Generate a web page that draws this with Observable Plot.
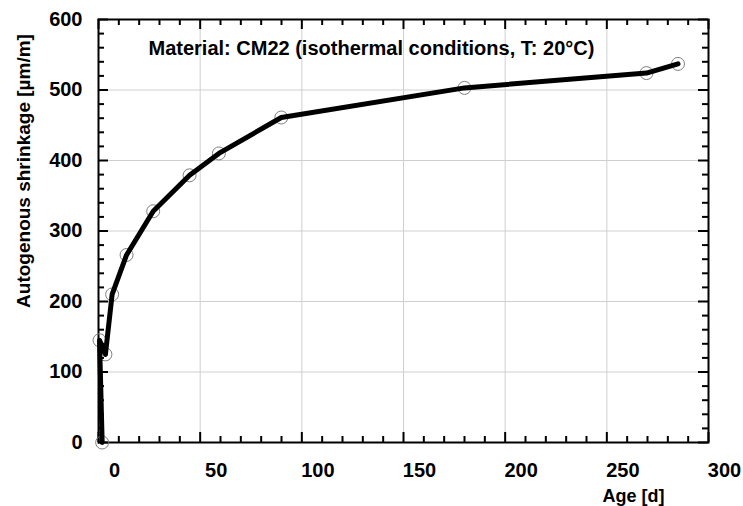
<!DOCTYPE html>
<html><head><meta charset="utf-8">
<script src="https://cdn.jsdelivr.net/npm/d3@7"></script>
<script src="https://cdn.jsdelivr.net/npm/@observablehq/plot@0.6"></script>
<style>
body{margin:0;background:#fff}
#chart svg{font-family:"Liberation Sans",Arial,sans-serif;background:#fff}
</style>
</head><body><div id="chart"></div>
<script>
// Measured points (Age in days, autogenous shrinkage in µm/m)
const ages = [1.8, 0.5, 3.4, 6.7, 13.8, 26.9, 44.8, 59.2, 89.9, 180, 269.5, 285];
const shrinkage = [0, 145, 125, 210, 266, 328, 379, 410, 461, 503, 524, 537];

// Axis ticks
const xMajorTicks = [0, 50, 100, 150, 200, 250, 300];
const xMinorTicks = [10, 20, 30, 40, 60, 70, 80, 90, 110, 120, 130, 140, 160, 170, 180, 190, 210, 220, 230, 240, 260, 270, 280, 290];
const yMajorTicks = [0, 100, 200, 300, 400, 500, 600];
const yMinorTicks = [20, 40, 60, 80, 120, 140, 160, 180, 220, 240, 260, 280, 320, 340, 360, 380, 420, 440, 460, 480, 520, 540, 560, 580];
const xGrid = [50, 100, 150, 200, 250];
const yGrid = [100, 200, 300, 400, 500];

// Texts
const titleText = "Material: CM22 (isothermal conditions, T: 20°C)";
const xLabel = "Age [d]";
const yLabel = "Autogenous shrinkage [µm/m]";

const data = ages.map((a, i) => ({age: a, value: shrinkage[i]}));

const W = 743, H = 506, ML = 98, MR = 35, MT = 19, MB = 64;
const innerW = W - ML - MR, innerH = H - MT - MB;
const minorLen = 6, majorLen = 10;
const tickStyle = {stroke: "black", strokeWidth: 2};
const bold = {fontWeight: "bold", fontSize: 20};

const chart = Plot.plot({
  width: W,
  height: H,
  marginLeft: ML,
  marginRight: MR,
  marginTop: MT,
  marginBottom: MB,
  x: {domain: [0, 300], axis: null},
  y: {domain: [0, 600], axis: null},
  marks: [
    Plot.gridX(xGrid, {stroke: "#cfcfcf", strokeOpacity: 1}),
    Plot.gridY(yGrid, {stroke: "#cfcfcf", strokeOpacity: 1}),
    // inward ticks: bottom, top, left, right
    Plot.tickX(xMinorTicks, {x: d => d, insetTop: innerH - minorLen, ...tickStyle}),
    Plot.tickX(xMajorTicks, {x: d => d, insetTop: innerH - majorLen, ...tickStyle}),
    Plot.tickX(xMinorTicks, {x: d => d, insetBottom: innerH - minorLen, ...tickStyle}),
    Plot.tickX(xMajorTicks, {x: d => d, insetBottom: innerH - majorLen, ...tickStyle}),
    Plot.tickY(yMinorTicks, {y: d => d, insetRight: innerW - minorLen, ...tickStyle}),
    Plot.tickY(yMajorTicks, {y: d => d, insetRight: innerW - majorLen, ...tickStyle}),
    Plot.tickY(yMinorTicks, {y: d => d, insetLeft: innerW - minorLen, ...tickStyle}),
    Plot.tickY(yMajorTicks, {y: d => d, insetLeft: innerW - majorLen, ...tickStyle}),
    // tick labels
    Plot.axisX(xMajorTicks, {anchor: "bottom", tickSize: 0, tickPadding: 20, dx: 16, fill: "black", label: null, ...bold}),
    Plot.axisY(yMajorTicks, {anchor: "left", tickSize: 0, tickPadding: 16, fill: "black", label: null, ...bold}),
    Plot.frame({stroke: "black", strokeWidth: 2}),
    // data
    Plot.dot(data, {x: "age", y: "value", r: 6.5, stroke: "#808080", fill: "none", strokeWidth: 1}),
    Plot.line(data, {x: "age", y: "value", stroke: "black", strokeWidth: 5, strokeLinejoin: "round"}),
    // texts
    Plot.text([titleText], {text: d => d, frameAnchor: "top-left", dx: 50, dy: 29, textAnchor: "start", lineAnchor: "middle", fill: "black", ...bold}),
    Plot.text([yLabel], {text: d => d, frameAnchor: "left", rotate: -90, dx: -75, dy: -60, textAnchor: "middle", lineAnchor: "middle", fill: "black", fontWeight: "bold", fontSize: 19}),
    Plot.text([xLabel], {text: d => d, frameAnchor: "bottom-right", dx: -75, dy: 54, textAnchor: "middle", lineAnchor: "middle", fill: "black", fontWeight: "bold", fontSize: 18})
  ]
});
document.getElementById("chart").appendChild(chart);
</script>
</body></html>
